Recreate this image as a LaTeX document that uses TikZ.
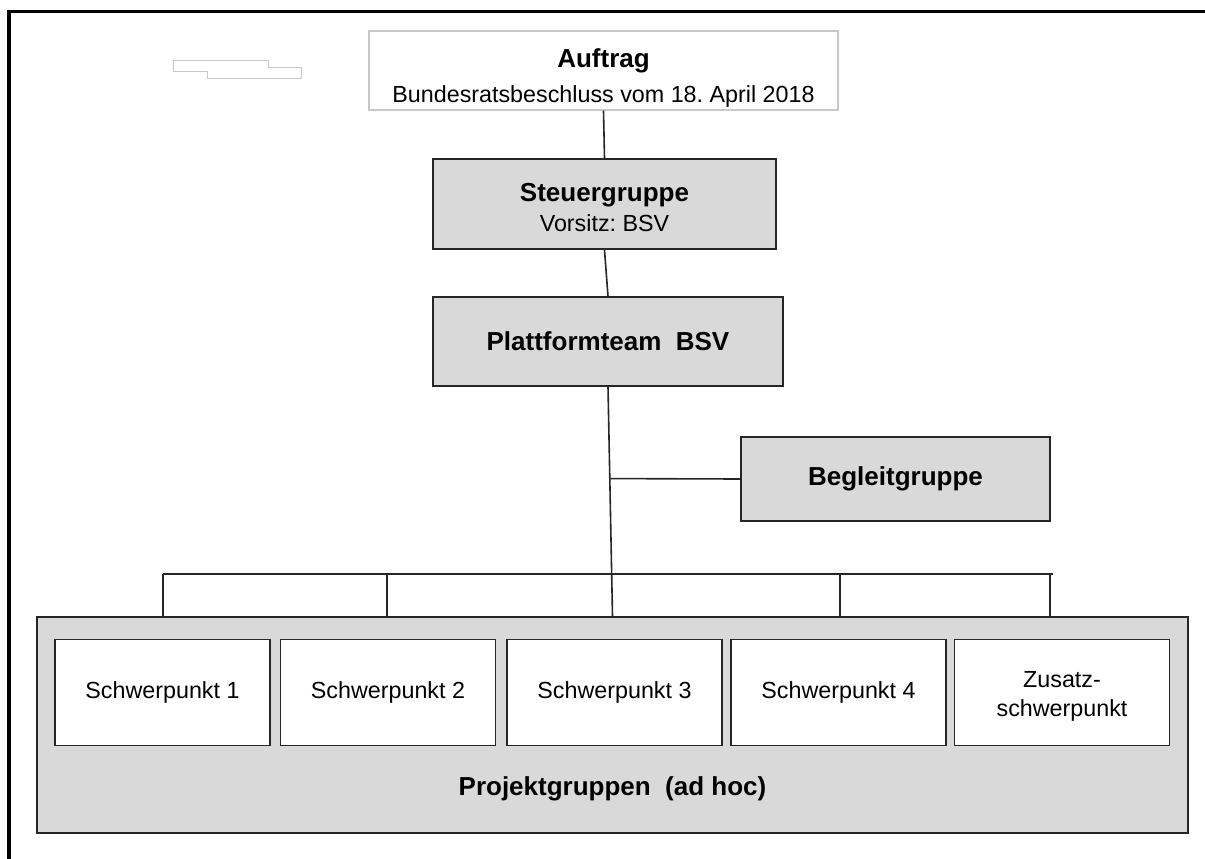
\documentclass[tikz,border=0pt]{standalone}
\usepackage{fontspec}
\setmainfont{Liberation Sans}
\frenchspacing
\definecolor{boxgray}{RGB}{217,217,217}
\definecolor{linegray}{RGB}{200,200,200}
\newcommand\boldtxt{\fontsize{26}{31}\selectfont\bfseries}
\newcommand\plaintxt{\fontsize{23.3}{29}\selectfont}
\tikzset{
  orgbox/.style={draw=black!85, line width=1.8pt, fill=boxgray, inner sep=0pt, align=center},
  subbox/.style={orgbox, fill=white, minimum width=215pt, minimum height=106pt, font=\plaintxt},
  link/.style={draw=black!85, line width=1.6pt}
}
\begin{document}
\begin{tikzpicture}[x=1pt,y=-1pt]
\useasboundingbox (0,0) rectangle (1205,859);
\draw[line width=3.5pt] (9,859) -- (9,11.5) -- (1205,11.5);
\draw[linegray, line width=1pt] (173,61) -- (268,61) -- (268,67.5) -- (301.5,67.5) -- (301.5,79) -- (207,79) -- (207,71.5) -- (173,71.5) -- cycle;
\node[orgbox, draw=linegray, line width=1.4pt, fill=white, minimum width=469pt, minimum height=79pt, font=\plaintxt] (auftrag) at (603.5,70.5)
  {\rule{0pt}{33pt}{\boldtxt Auftrag}\\[6pt]Bundesratsbeschluss vom 18. April 2018};
\node[orgbox, minimum width=343pt, minimum height=90pt, font=\plaintxt] (steuer) at (604.5,204)
  {\rule{0pt}{25pt}{\boldtxt Steuergruppe}\\[1pt]Vorsitz: BSV};
\node[orgbox, minimum width=350pt, minimum height=89pt, font=\boldtxt] (plattform) at (608,341.5) {Plattformteam\ \ BSV};
\node[orgbox, minimum width=309pt, minimum height=84pt, font=\boldtxt] (begleit) at (895.5,479) {Begleitgruppe};
\node[orgbox, minimum width=1151pt, minimum height=216pt] (projekt) at (612.5,725) {};
\node[font=\boldtxt] (projektlabel) at (612.5,789) {Projektgruppen\ \ (ad hoc)};
\foreach \n/\x/\t in {sp1/162.5/Schwerpunkt 1, sp2/388/Schwerpunkt 2, sp3/614.5/Schwerpunkt 3, sp4/838.5/Schwerpunkt 4, sp5/1062/{\rule{0pt}{24pt}Zusatz-\\schwerpunkt}}
  \node[subbox] (\n) at (\x,692.5) {\t};
% Verbindungen
\draw[link] (auftrag.south) -- (steuer.north);
\draw[link] (steuer.south) -- (plattform.north);
\draw[link] (plattform.south) -- (projekt.north) coordinate[pos=0.4] (abzweig);
\draw[link] (abzweig) -- (begleit.west);
\coordinate (busL) at (163,574);
\coordinate (busR) at (1053,574);
\draw[link] (busL) -- (busR);
\foreach \x in {163,387,840,1050}
  \draw[link] (\x,574) coordinate (bus\x) -- (bus\x |- projekt.north);
\end{tikzpicture}
\end{document}
